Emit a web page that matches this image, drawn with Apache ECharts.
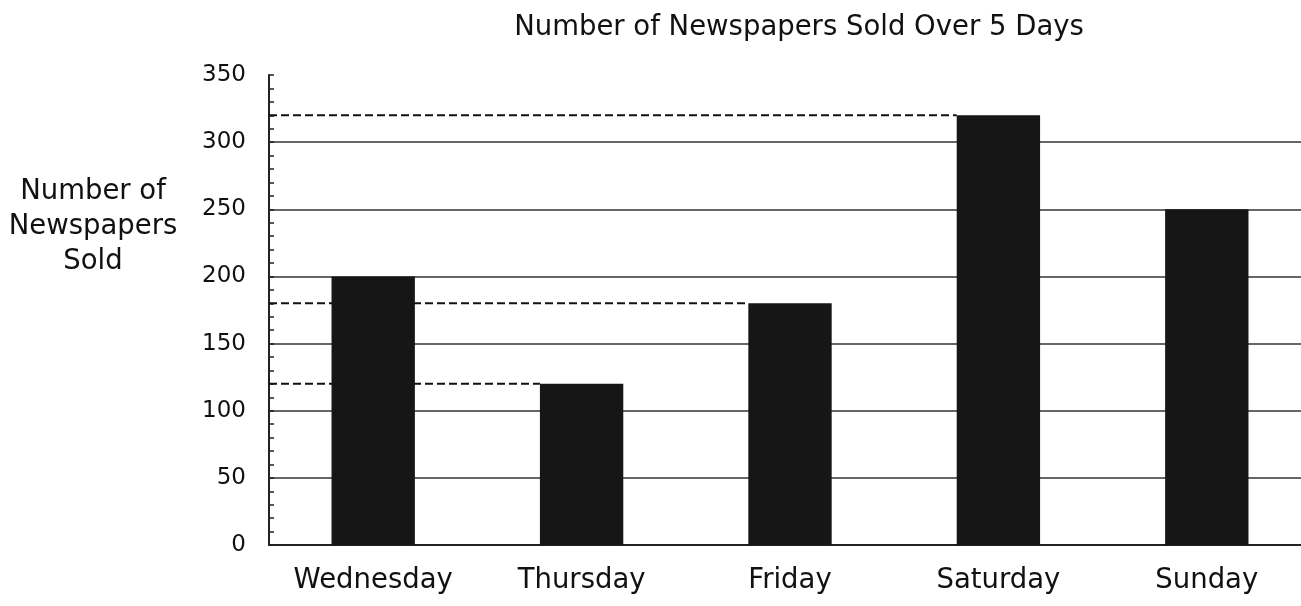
<!DOCTYPE html>
<html>
<head>
<meta charset="utf-8">
<script src="https://cdn.jsdelivr.net/npm/echarts@6/dist/echarts.min.js"></script>
<style>
html,body{margin:0;padding:0;background:#fff;overflow:hidden;width:1301px;height:606px;}
#chart{width:1320px;height:606px;}
</style>
</head>
<body>
<div id="chart"></div>
<script>
const titleText = 'Number of Newspapers Sold Over 5 Days';
const yAxisTitle = 'Number of\nNewspapers\nSold';
const categories = ['Wednesday', 'Thursday', 'Friday', 'Saturday', 'Sunday'];
const sold = [200, 120, 180, 320, 250];
const yTicks = [0, 50, 100, 150, 200, 250, 300, 350];
// dashed reference lines: [category index, value]
const refLines = [[3, 320], [2, 180], [1, 120]];

const font = '"DejaVu Sans", "Liberation Sans", Arial, sans-serif';
const chart = echarts.init(document.getElementById('chart'), null, {renderer: 'canvas'});
const BAR_RATIO = 0.4;

chart.setOption({
  backgroundColor: '#ffffff',
  animation: false,
  title: {
    text: titleText,
    left: 794,
    top: 9,
    textAlign: 'center',
    textStyle: {fontFamily: font, fontSize: 27.5, fontWeight: 'normal', color: '#111'}
  },
  graphic: [{
    type: 'text',
    x: 93,
    y: 174,
    style: {
      text: yAxisTitle,
      fontFamily: font,
      fontSize: 27.5,
      lineHeight: 35,
      align: 'center',
      verticalAlign: 'top',
      fill: '#111'
    }
  }],
  grid: {left: 269, top: 75, width: 1042, height: 470, containLabel: false},
  xAxis: {
    type: 'category',
    data: categories,
    boundaryGap: true,
    axisLine: {show: true, lineStyle: {color: '#222', width: 2}},
    axisTick: {show: false},
    axisLabel: {fontFamily: font, fontSize: 27.5, color: '#111', margin: 22}
  },
  yAxis: {
    type: 'value',
    min: yTicks[0],
    max: yTicks[yTicks.length - 1],
    interval: 50,
    axisLine: {show: true, lineStyle: {color: '#222', width: 2}},
    axisTick: {show: true, inside: true, length: 5, lineStyle: {color: '#222', width: 1.5}},
    minorTick: {show: true, splitNumber: 5, length: 5, lineStyle: {color: '#222', width: 1.5}},
    axisLabel: {fontFamily: font, fontSize: 23, color: '#111', margin: 23},
    splitLine: {show: true, showMinLine: false, showMaxLine: false, lineStyle: {color: '#333', width: 1.6}}
  },
  series: [{
    type: 'bar',
    data: sold,
    barWidth: (BAR_RATIO * 100) + '%',
    itemStyle: {color: '#161616'},
    z: 3
  }, {
    type: 'custom',
    data: refLines,
    z: 2,
    renderItem: function (params, api) {
      const cat = api.value(0);
      const val = api.value(1);
      const pt = api.coord([cat, val]);
      const half = api.size([1, 0])[0] * BAR_RATIO / 2;
      return {
        type: 'line',
        shape: {x1: params.coordSys.x, y1: pt[1], x2: pt[0] - half, y2: pt[1]},
        style: {stroke: '#111', lineWidth: 2, lineDash: [8, 4]}
      };
    }
  }]
});
</script>
</body>
</html>
